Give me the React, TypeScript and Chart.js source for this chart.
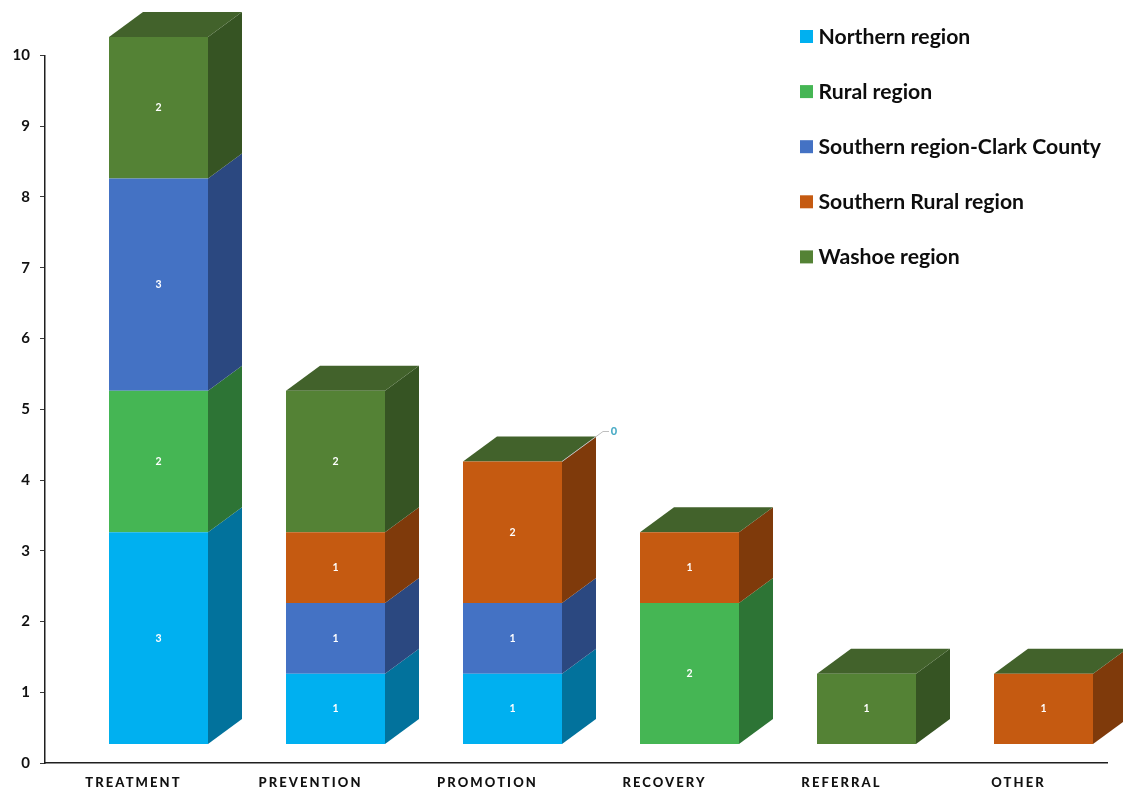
import React, { useEffect, useRef } from "react";
import { Chart, registerables } from "chart.js";

Chart.register(...registerables);

const FONT = "Lato, 'Open Sans', sans-serif";

const categories = ["TREATMENT", "PREVENTION", "PROMOTION", "RECOVERY", "REFERRAL", "OTHER"];

const northern = [3, 1, 1, 0, 0, 0];
const rural = [2, 0, 0, 2, 0, 0];
const clark = [3, 1, 1, 0, 0, 0];
const southernRural = [0, 1, 2, 1, 0, 1];
const washoe = [2, 2, 0, 0, 1, 0];

const seriesNames = [
  "Northern region",
  "Rural region",
  "Southern region-Clark County",
  "Southern Rural region",
  "Washoe region",
];
const frontColors = ["#00B0F0", "#45B654", "#4472C4", "#C55A11", "#548235"];
const sideColors = ["#02729C", "#2D7435", "#2B4880", "#7F3A0B", "#365423"];
const topColor = "#42622B";

// Category whose zero-valued top series gets a called-out label.
const calloutCategory = 2;

const DEPTH_X = 34;
const DEPTH_Y = -25;
const SHIFT_X = 25;
const SHIFT_Y = -18.5;

// Extrudes the flat bars into boxes and writes their value labels.
const boxPlugin = {
  id: "boxes",
  beforeDatasetsDraw(chart: any) {
    const ctx = chart.ctx;
    ctx.save();
    ctx.translate(SHIFT_X, SHIFT_Y);
    chart.data.datasets.forEach((ds: any, d: number) => {
      chart.getDatasetMeta(d).data.forEach((bar: any, i: number) => {
        if (!(ds.data[i] > 0)) return;
        const right = bar.x + bar.width / 2;
        ctx.fillStyle = sideColors[d];
        ctx.beginPath();
        ctx.moveTo(right, bar.base);
        ctx.lineTo(right + DEPTH_X, bar.base + DEPTH_Y);
        ctx.lineTo(right + DEPTH_X, bar.y + DEPTH_Y);
        ctx.lineTo(right, bar.y);
        ctx.closePath();
        ctx.fill();
      });
    });
    const last = chart.data.datasets.length - 1;
    chart.getDatasetMeta(last).data.forEach((bar: any) => {
      const left = bar.x - bar.width / 2;
      const right = bar.x + bar.width / 2;
      ctx.fillStyle = topColor;
      ctx.beginPath();
      ctx.moveTo(left, bar.y);
      ctx.lineTo(left + DEPTH_X, bar.y + DEPTH_Y);
      ctx.lineTo(right + DEPTH_X, bar.y + DEPTH_Y);
      ctx.lineTo(right, bar.y);
      ctx.closePath();
      ctx.fill();
    });
  },
  afterDatasetsDraw(chart: any) {
    const ctx = chart.ctx;
    ctx.textAlign = "center";
    ctx.textBaseline = "middle";
    ctx.font = `bold 10.5px ${FONT}`;
    ctx.fillStyle = "#FFFFFF";
    chart.data.datasets.forEach((ds: any, d: number) => {
      chart.getDatasetMeta(d).data.forEach((bar: any, i: number) => {
        if (ds.data[i] > 0) {
          ctx.fillText(String(ds.data[i]), bar.x, (bar.y + bar.base) / 2);
        }
      });
    });

    // Leader line and label for the zero value sitting on top of one stack.
    const last = chart.data.datasets.length - 1;
    const bar = chart.getDatasetMeta(last).data[calloutCategory];
    const right = bar.x + bar.width / 2;
    ctx.strokeStyle = "#BFBFBF";
    ctx.lineWidth = 1;
    ctx.beginPath();
    ctx.moveTo(right, bar.y);
    ctx.lineTo(right + DEPTH_X + 7, bar.y + DEPTH_Y - 5);
    ctx.lineTo(right + DEPTH_X + 13, bar.y + DEPTH_Y - 5);
    ctx.stroke();
    ctx.fillStyle = "#4BACC6";
    ctx.font = `900 11px ${FONT}`;
    ctx.fillText(String(chart.data.datasets[last].data[calloutCategory]), right + DEPTH_X + 18, bar.y + DEPTH_Y - 5);
    ctx.restore();
    // The category labels are drawn after this hook, on their own layer.
    ctx.letterSpacing = "2.1px";
  },
  afterDraw(chart: any) {
    const ctx = chart.ctx;
    ctx.letterSpacing = "0px";

    // Legend column in the top right corner.
    ctx.save();
    ctx.textAlign = "left";
    ctx.textBaseline = "middle";
    ctx.font = `bold 21.2px ${FONT}`;
    chart.data.datasets.forEach((ds: any, d: number) => {
      const rowY = 36.5 + d * 55.1;
      ctx.fillStyle = ds.backgroundColor;
      ctx.fillRect(800, rowY - 6.5, 13, 13);
      ctx.fillStyle = "#0D0D0D";
      ctx.fillText(ds.label, 818.5, rowY + 0.5);
    });
    ctx.restore();
  },
};

export default function App() {
  const ref = useRef<HTMLCanvasElement>(null);

  useEffect(() => {
    const seriesValues = [northern, rural, clark, southernRural, washoe];
    const chart = new Chart(ref.current!, {
      type: "bar",
      data: {
        labels: categories,
        datasets: seriesValues.map((data, d) => ({
          label: seriesNames[d],
          data,
          backgroundColor: frontColors[d],
          borderWidth: 0,
          inflateAmount: 0,
          barThickness: 99,
          clip: false,
        })),
      },
      options: {
        animation: false,
        responsive: false,
        devicePixelRatio: 1,
        layout: { padding: { top: 55.5, right: 16, bottom: 0, left: 0 } },
        plugins: { legend: { display: false }, tooltip: { enabled: false } },
        scales: {
          x: {
            stacked: true,
            afterFit: (s: any) => {
              s.height = 25;
            },
            grid: { display: false },
            border: { color: "#1F1F1F", width: 1.5 },
            ticks: {
              z: 1,
              color: "#111111",
              padding: 4,
              maxRotation: 0,
              font: { family: FONT, size: 13, weight: "900" },
            },
          },
          y: {
            stacked: true,
            min: 0,
            max: 10,
            afterFit: (s: any) => {
              s.width = 45;
            },
            grid: { drawOnChartArea: false, color: "#3A3A3A", tickLength: 5 },
            border: { color: "#1F1F1F", width: 1.5 },
            ticks: {
              stepSize: 1,
              color: "#111111",
              padding: 10,
              font: { family: FONT, size: 15, weight: "bold" },
            },
          },
        },
      },
      plugins: [boxPlugin],
    } as any);
    return () => chart.destroy();
  }, []);

  return (
    <canvas
      ref={ref}
      width={1123}
      height={788}
      style={{ position: "absolute", left: 0, top: 0, display: "block" }}
    />
  );
}
